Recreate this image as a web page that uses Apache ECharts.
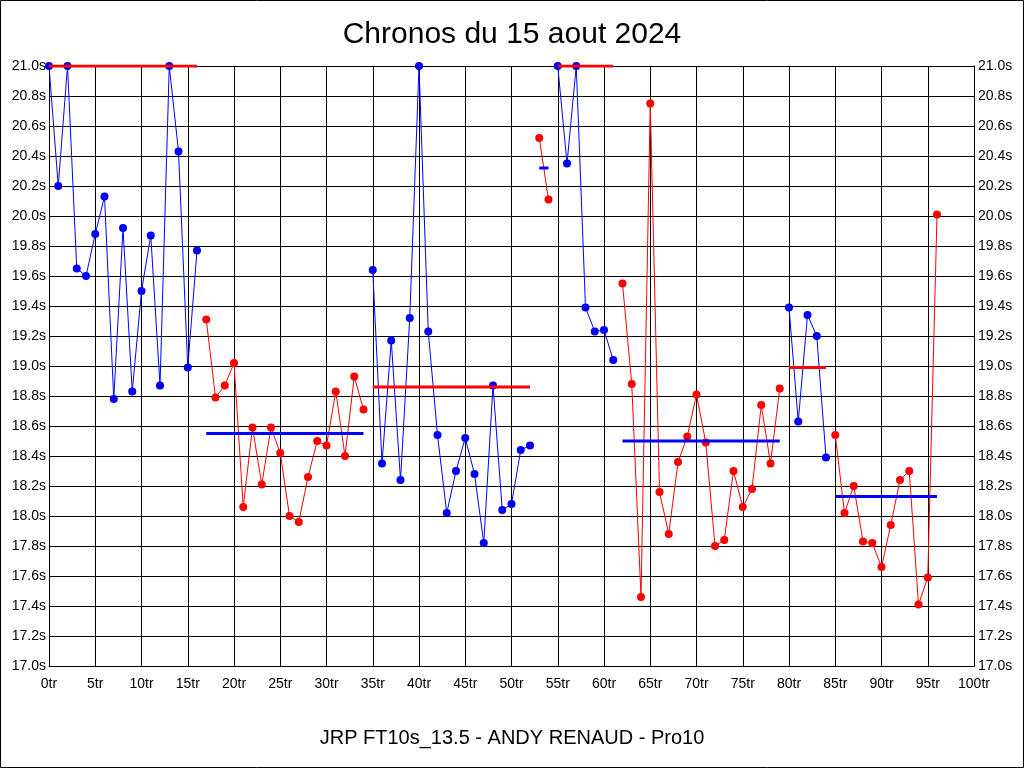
<!DOCTYPE html>
<html><head><meta charset="utf-8">
<script src="https://cdn.jsdelivr.net/npm/echarts@6/dist/echarts.min.js"></script>
<style>html,body{margin:0;padding:0;background:#fff}#c{width:1024px;height:768px}</style>
</head><body><div id="c"></div>
<script>
// Lap times per stint (seconds), first lap index of each stint
const stintStarts = [0, 17, 35, 53, 55, 62, 80, 85];
const stintColors = ['blue', 'red', 'blue', 'red', 'blue', 'red', 'blue', 'red'];
const stint1 = [21.0, 20.2, 21.0, 19.65, 19.6, 19.88, 20.13, 18.78, 19.92, 18.83, 19.5, 19.87, 18.87, 21.0, 20.43, 18.99, 19.77];
const stint2 = [19.31, 18.79, 18.87, 19.02, 18.06, 18.59, 18.21, 18.59, 18.42, 18.0, 17.96, 18.26, 18.5, 18.47, 18.83, 18.4, 18.93, 18.71];
const stint3 = [19.64, 18.35, 19.17, 18.24, 19.32, 21.0, 19.23, 18.54, 18.02, 18.3, 18.52, 18.28, 17.82, 18.87, 18.04, 18.08, 18.44, 18.47];
const stint4 = [20.52, 20.11];
const stint5 = [21.0, 20.35, 21.0, 19.39, 19.23, 19.24, 19.04];
const stint6 = [19.55, 18.88, 17.46, 20.75, 18.16, 17.88, 18.36, 18.53, 18.81, 18.49, 17.8, 17.84, 18.3, 18.06, 18.18, 18.74, 18.35, 18.85];
const stint7 = [19.39, 18.63, 19.34, 19.2, 18.39];
const stint8 = [18.54, 18.02, 18.2, 17.83, 17.82, 17.66, 17.94, 18.24, 18.3, 17.41, 17.59, 20.01];
const stintMeans = [21.0, 18.55, 18.86, 20.32, 21.0, 18.5, 18.99, 18.13];
const xTicks = [0, 5, 10, 15, 20, 25, 30, 35, 40, 45, 50, 55, 60, 65, 70, 75, 80, 85, 90, 95, 100];
const title = 'Chronos du 15 aout 2024';
const subtitle = 'JRP FT10s_13.5 - ANDY RENAUD - Pro10';

const stints = [stint1, stint2, stint3, stint4, stint5, stint6, stint7, stint8];
const colorMap = { blue: '#0000ff', red: '#ff0000' };
const other = { blue: 'red', red: 'blue' };
const series = [];
stints.forEach((vals, i) => {
  const s = stintStarts[i];
  const col = colorMap[stintColors[i]];
  series.push({
    type: 'line', xAxisIndex: 0, yAxisIndex: 0,
    data: vals.map((v, k) => [s + k, v]),
    symbol: 'circle', symbolSize: 8, showSymbol: true,
    lineStyle: { color: col, width: 1 }, itemStyle: { color: col },
    z: 3, animation: false
  });
  series.push({
    type: 'line', xAxisIndex: 0, yAxisIndex: 0,
    data: [[s, stintMeans[i]], [s + vals.length - 1, stintMeans[i]]],
    symbol: 'none',
    lineStyle: { color: colorMap[other[stintColors[i]]], width: 3 },
    z: 4, animation: false
  });
});

const chart = echarts.init(document.getElementById('c'), null, { renderer: 'canvas' });
const lblFont = { color: '#000', fontFamily: 'Liberation Sans, Arial, sans-serif', fontSize: 14 };
chart.setOption({
  backgroundColor: '#fff',
  animation: false,
  title: [
    { text: title, left: 'center', top: 15, textStyle: { color: '#000', fontWeight: 'normal', fontFamily: 'Liberation Sans, Arial, sans-serif', fontSize: 30 } },
    { text: subtitle, left: 'center', top: 723, textStyle: { color: '#000', fontWeight: 'normal', fontFamily: 'Liberation Sans, Arial, sans-serif', fontSize: 20 } }
  ],
  graphic: [{ type: 'rect', shape: { x: 0.5, y: 0.5, width: 1023, height: 767 }, style: { fill: 'none', stroke: '#000', lineWidth: 1 }, silent: true }],
  grid: { left: 49, right: 50, top: 66, bottom: 102, containLabel: false },
  xAxis: {
    type: 'value', min: 0, max: 100, interval: 5,
    axisLine: { show: true, lineStyle: { color: '#000', width: 1 } },
    axisTick: { show: false },
    splitLine: { show: true, lineStyle: { color: '#000', width: 1 } },
    axisLabel: Object.assign({ margin: 11, formatter: v => xTicks.includes(v) ? v + 'tr' : '' }, lblFont)
  },
  yAxis: [
    {
      type: 'value', min: 17, max: 21, interval: 0.2, position: 'left',
      axisLine: { show: true, lineStyle: { color: '#000', width: 1 } },
      axisTick: { show: false },
      splitLine: { show: true, lineStyle: { color: '#000', width: 1 } },
      axisLabel: Object.assign({ margin: 3, formatter: v => v.toFixed(1) + 's' }, lblFont)
    },
    {
      type: 'value', min: 17, max: 21, interval: 0.2, position: 'right',
      axisLine: { show: true, lineStyle: { color: '#000', width: 1 } },
      axisTick: { show: false },
      splitLine: { show: false },
      axisLabel: Object.assign({ margin: 4, formatter: v => v.toFixed(1) + 's' }, lblFont)
    }
  ],
  series: series
});
</script></body></html>
